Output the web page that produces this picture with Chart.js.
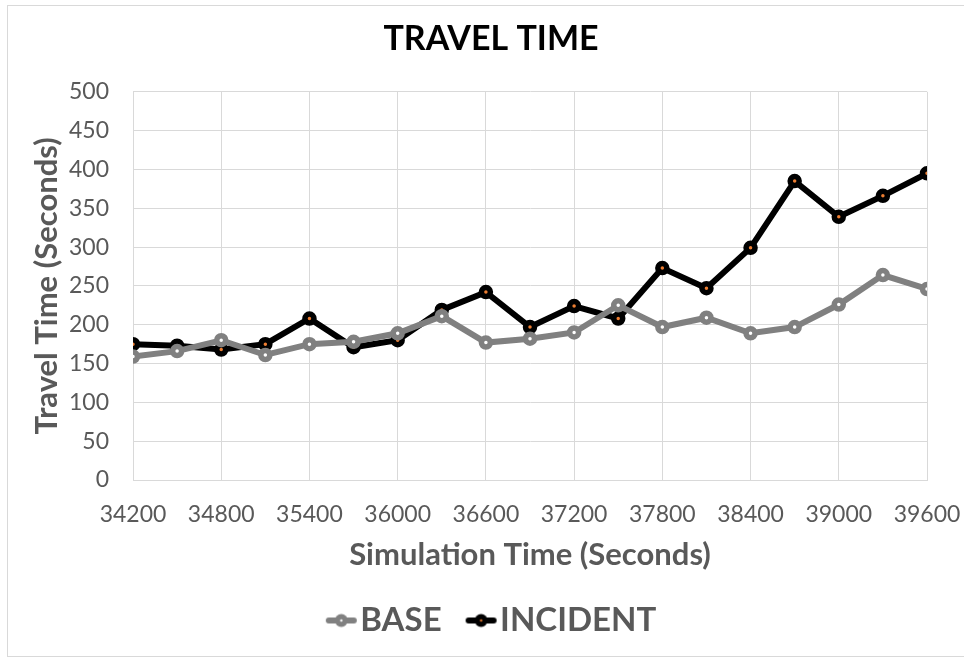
<!DOCTYPE html>
<html>
<head>
<meta charset="utf-8">
<script src="https://cdn.jsdelivr.net/npm/chart.js@4"></script>
<style>
  html, body { margin: 0; padding: 0; background: #ffffff; }
  #wrap { position: relative; width: 964px; height: 658px; overflow: hidden; }
  #frame { position: absolute; left: 7px; top: 5px; width: 970px; height: 652px;
           border: 1.5px solid #d9d9d9; box-sizing: border-box; }
  canvas { position: absolute; left: 0; top: 0; }
</style>
</head>
<body>
<div id="wrap">
  <div id="frame"></div>
  <canvas id="chart" width="964" height="658"></canvas>
</div>
<script>
// Simulation time stamps (seconds)
const simTimes = [34200, 34500, 34800, 35100, 35400, 35700, 36000, 36300, 36600, 36900,
                  37200, 37500, 37800, 38100, 38400, 38700, 39000, 39300, 39600];
// Travel time (seconds) per scenario
const baseTimes = [159, 166, 180, 161, 175, 178, 189, 211, 177, 182,
                   190, 225, 197, 209, 189, 197, 226, 264, 246];
const incidentTimes = [175, 173, 168, 175, 208, 171, 180, 219, 242, 197,
                       224, 208, 273, 247, 299, 385, 339, 366, 395];
const seriesNames = ['BASE', 'INCIDENT'];

const FONT = 'Lato, "Open Sans", sans-serif';
const GREY_TEXT = '#595959';
const GRID = '#d9d9d9';

// Legend glyph: a short line with the series marker on it
function legendGlyph(lineColor, dotColor) {
  const c = document.createElement('canvas');
  c.width = 72; c.height = 20;
  const g = c.getContext('2d');
  const x0 = 27, x1 = 58, cy = 10;
  g.strokeStyle = lineColor; g.lineWidth = 6; g.lineCap = 'round';
  g.beginPath(); g.moveTo(x0 + 3, cy); g.lineTo(x1 - 3, cy); g.stroke();
  g.beginPath(); g.arc((x0 + x1) / 2, cy, 6.5, 0, Math.PI * 2);
  g.fillStyle = lineColor; g.fill();
  g.beginPath(); g.arc((x0 + x1) / 2, cy, 1.2, 0, Math.PI * 2);
  g.fillStyle = dotColor; g.fill();
  return c;
}

const toPoints = vals => vals.map((v, i) => ({ x: simTimes[i], y: v }));

const styles = [
  { line: '#808080', dot: '#ffffff' },
  { line: '#000000', dot: '#ed7d31' }
];

const datasets = [baseTimes, incidentTimes].map((vals, k) => ({
  label: seriesNames[k],
  data: toPoints(vals),
  borderColor: styles[k].line,
  backgroundColor: styles[k].dot,
  borderWidth: 6,
  pointRadius: 4.5,
  pointBorderWidth: 5.5,
  pointBackgroundColor: styles[k].dot,
  pointBorderColor: styles[k].line,
  pointHoverRadius: 4.5,
  tension: 0
}));

new Chart(document.getElementById('chart'), {
  type: 'line',
  data: { datasets },
  options: {
    responsive: false,
    animation: false,
    devicePixelRatio: 1,
    layout: { padding: { left: 55, right: 37, top: 0, bottom: 11 } },
    plugins: {
      tooltip: { enabled: false },
      title: {
        display: true,
        text: 'TRAVEL TIME',
        color: '#000000',
        font: { family: FONT, size: 34, weight: 'bold' },
        padding: { top: 19, bottom: 32 }
      },
      legend: {
        position: 'bottom',
        labels: {
          color: GREY_TEXT,
          font: { family: FONT, size: 33, weight: 'bold' },
          usePointStyle: true,
          pointStyleWidth: 18,
          padding: 24,
          generateLabels(chart) {
            return chart.data.datasets.map((ds, i) => ({
              text: ds.label,
              fontColor: GREY_TEXT,
              datasetIndex: i,
              hidden: false,
              lineWidth: 0,
              pointStyle: legendGlyph(styles[i].line, styles[i].dot)
            }));
          }
        }
      }
    },
    scales: {
      x: {
        type: 'linear',
        min: 34200,
        max: 39600,
        ticks: {
          stepSize: 600,
          color: GREY_TEXT,
          font: { family: FONT, size: 23 },
          padding: 21,
          maxRotation: 0,
          callback: v => String(v)
        },
        grid: { color: GRID, lineWidth: 1, drawTicks: false },
        border: { color: GRID, width: 1 },
        title: {
          display: true,
          text: 'Simulation Time (Seconds)',
          color: GREY_TEXT,
          font: { family: FONT, size: 31, weight: 'bold' },
          padding: { top: 2, bottom: 6 }
        },
        afterFit(scale) {
          scale.height = 100;
          scale.paddingLeft = 0;
          scale.paddingRight = 0;
        }
      },
      y: {
        min: 0,
        max: 500,
        ticks: {
          stepSize: 50,
          color: GREY_TEXT,
          font: { family: FONT, size: 23 },
          padding: 24
        },
        grid: { color: GRID, lineWidth: 1, drawTicks: false },
        border: { color: GRID, width: 1 },
        title: {
          display: true,
          text: 'Travel Time (Seconds)',
          color: GREY_TEXT,
          font: { family: FONT, size: 31, weight: 'bold' },
          padding: { top: -27, bottom: 0 }
        },
        afterFit(scale) { scale.width = 78; }
      }
    }
  }
});
</script>
</body>
</html>
